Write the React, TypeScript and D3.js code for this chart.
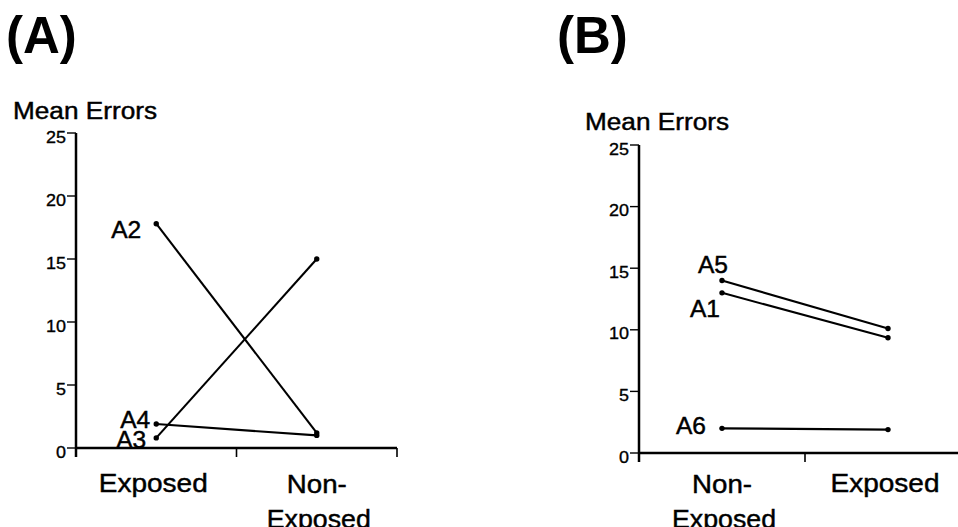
import React from "react";
import * as d3 from "d3";

const W = 958;
const H = 527;

const catsA = ["Exposed", "Non-Exposed"];
const catsB = ["Non-Exposed", "Exposed"];
const yTicks = [0, 5, 10, 15, 20, 25];

const seriesNames_A = ["A2", "A3", "A4"];
const A2 = [17.8, 1.2];
const A3 = [0.8, 15.0];
const A4 = [1.9, 1.0];

const seriesNames_B = ["A5", "A1", "A6"];
const A5 = [14.0, 10.1];
const A1 = [13.0, 9.35];
const A6 = [2.0, 1.9];

const FONT = "'Liberation Sans', Arial, Helvetica, sans-serif";
const heavy = { stroke: "#000", strokeWidth: 0.45 };

type LabelPos = { dx: number; dy: number };

function Panel(props: {
  title: string;
  titleX: number;
  cats: string[];
  xRange: [number, number];
  yRange: [number, number];
  series: { name: string; values: number[]; label: LabelPos }[];
  ylabX: number;
  ylabY: number;
  xAxisEnd: number;
}) {
  const { cats, xRange, yRange, series } = props;
  const x = d3.scaleBand<string>().domain(cats).range(xRange);
  const y = d3.scaleLinear().domain([0, 25]).range(yRange);
  const ax = xRange[0];
  const y0 = y(0);
  const line = d3
    .line<number>()
    .x((_, i) => (x(cats[i]) as number) + x.bandwidth() / 2)
    .y((v) => y(v));
  const boundaries = [...cats.map((c) => x(c) as number), xRange[1]];
  return (
    <g fontFamily={FONT} fill="#000">
      <text x={props.titleX} y={53} fontSize={51} fontWeight="bold">
        {props.title}
      </text>
      <text x={props.ylabX} y={props.ylabY} fontSize={23} textLength={144} lengthAdjust="spacingAndGlyphs" {...heavy}>
        Mean Errors
      </text>
      {/* y axis */}
      <line x1={ax} x2={ax} y1={y(25)} y2={y0 + 9} stroke="#000" strokeWidth={2.5} />
      {yTicks.map((t) => (
        <g key={t}>
          <line x1={ax - 9} x2={ax} y1={y(t)} y2={y(t)} stroke="#000" strokeWidth={1.4} />
          <text
            x={ax - 10}
            y={y(t) + 9.5}
            fontSize={17}
            textAnchor="end"
            textLength={t < 10 ? 10 : 20}
            lengthAdjust="spacingAndGlyphs"
            {...heavy}
            strokeWidth={0.35}
          >
            {t}
          </text>
        </g>
      ))}
      {/* x axis */}
      <line x1={ax} x2={props.xAxisEnd} y1={y0} y2={y0} stroke="#000" strokeWidth={2.5} />
      {boundaries.map((b, i) => (
        <line key={i} x1={b} x2={b} y1={y0} y2={y0 + 9} stroke="#000" strokeWidth={1.6} />
      ))}
      {/* x labels */}
      {cats.map((c) => {
        const cx = (x(c) as number) + x.bandwidth() / 2;
        if (c === "Non-Exposed") {
          return (
            <g key={c}>
              <text x={cx} y={493} fontSize={26} textAnchor="middle" textLength={60} lengthAdjust="spacingAndGlyphs" {...heavy}>
                Non-
              </text>
              <text x={cx + 2} y={528} fontSize={26} textAnchor="middle" textLength={104} lengthAdjust="spacingAndGlyphs" {...heavy}>
                Exposed
              </text>
            </g>
          );
        }
        return (
          <text key={c} x={cx - 3} y={492} fontSize={26} textAnchor="middle" textLength={109} lengthAdjust="spacingAndGlyphs" {...heavy}>
            {c}
          </text>
        );
      })}
      {/* series */}
      {series.map((s) => {
        const px = (x(cats[0]) as number) + x.bandwidth() / 2;
        const py = y(s.values[0]);
        return (
          <g key={s.name}>
            <path d={line(s.values) || ""} fill="none" stroke="#000" strokeWidth={2.1} />
            {s.values.map((v, i) => (
              <circle
                key={i}
                cx={(x(cats[i]) as number) + x.bandwidth() / 2}
                cy={y(v)}
                r={2.7}
                fill="#000"
              />
            ))}
            <text
              x={px + s.label.dx}
              y={py + s.label.dy}
              fontSize={23}
              textAnchor="end"
              textLength={30}
              lengthAdjust="spacingAndGlyphs"
              {...heavy}
            >
              {s.name}
            </text>
          </g>
        );
      })}
    </g>
  );
}

export default function App() {
  return (
    <svg width={W} height={H} style={{ display: "block", position: "absolute", left: 0, top: 0 }}>
      <rect width={W} height={H} fill="#fff" />
      <Panel
        title="(A)"
        titleX={6}
        cats={catsA}
        xRange={[76, 397]}
        yRange={[448, 133]}
        ylabX={13}
        ylabY={119}
        xAxisEnd={397}
        series={[
          { name: seriesNames_A[0], values: A2, label: { dx: -15, dy: 14 } },
          { name: seriesNames_A[1], values: A3, label: { dx: -10, dy: 10 } },
          { name: seriesNames_A[2], values: A4, label: { dx: -6, dy: 4 } },
        ]}
      />
      <Panel
        title="(B)"
        titleX={557}
        cats={catsB}
        xRange={[639, 971]}
        yRange={[453, 145]}
        ylabX={585}
        ylabY={130}
        xAxisEnd={958}
        series={[
          { name: seriesNames_B[0], values: A5, label: { dx: 6, dy: -8 } },
          { name: seriesNames_B[1], values: A1, label: { dx: -2, dy: 24 } },
          { name: seriesNames_B[2], values: A6, label: { dx: -16, dy: 6 } },
        ]}
      />
    </svg>
  );
}
